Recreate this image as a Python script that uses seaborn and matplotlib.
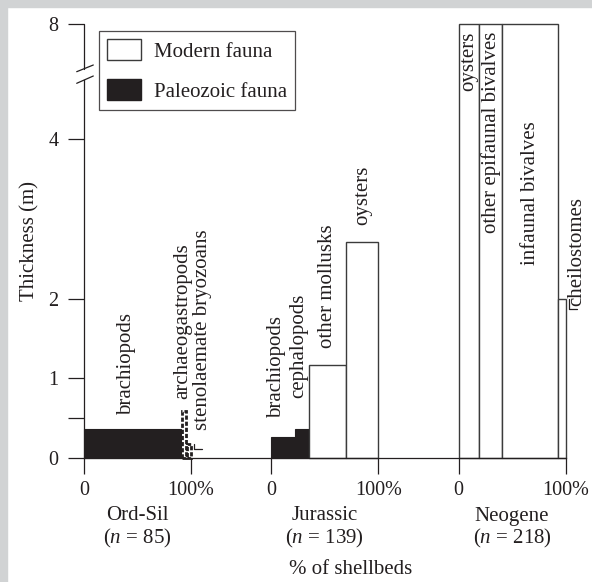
import numpy as np
import pandas as pd
import matplotlib
matplotlib.use("Agg")
import matplotlib.pyplot as plt
import seaborn as sns
from matplotlib.patches import Patch, Rectangle
from matplotlib.lines import Line2D

# dane
periods = ["Ord-Sil", "Jurassic", "Neogene"]
n_beds = [85, 139, 218]

ordsil_taxa = ["brachiopods", "archaeogastropods", "stenolaemate bryozoans"]
ordsil_pct = [91, 4, 5]
ordsil_thick = [0.37, 0.59, 0.18]
ordsil_fauna = ["Paleozoic", "Paleozoic", "Paleozoic"]

jurassic_taxa = ["brachiopods", "cephalopods", "other mollusks", "oysters"]
jurassic_pct = [22, 13, 35, 30]
jurassic_thick = [0.265, 0.37, 1.165, 2.71]
jurassic_fauna = ["Paleozoic", "Paleozoic", "Modern", "Modern"]

neogene_taxa = ["oysters", "other epifaunal bivalves", "infaunal bivalves", "cheilostomes"]
neogene_pct = [19, 22, 52, 7]
neogene_thick = [8, 8, 8, 2.0]
neogene_fauna = ["Modern", "Modern", "Modern", "Modern"]

y_ticks = [0, 0.5, 1, 2, 4, 8]
y_ticklabels = ["0", "", "1", "2", "4", "8"]

# ustawienia
W, H, DPI = 592, 582, 100
STEP = 175          # odstep miedzy grupami (w % szerokosci)
MINOR_W = 3.5       # waskie slupki rysowane kropkowane
BRK, SQZ = 4.8, 0.2  # przerwa na osi y
BLACK = "#231f20"
EDGE = "#3b3b3b"
FS = 15

sns.set_theme(style="ticks")
plt.rcParams["font.family"] = ["Liberation Serif", "DejaVu Serif"]
plt.rcParams["mathtext.fontset"] = "custom"
plt.rcParams["mathtext.rm"] = "Liberation Serif"
plt.rcParams["mathtext.it"] = "Liberation Serif:italic"
plt.rcParams["axes.edgecolor"] = BLACK
plt.rcParams["text.color"] = BLACK
plt.rcParams["xtick.color"] = BLACK
plt.rcParams["ytick.color"] = BLACK

# tabela slupkow
rows = []
for i, (taxa, pct, thick, fauna) in enumerate([
        (ordsil_taxa, ordsil_pct, ordsil_thick, ordsil_fauna),
        (jurassic_taxa, jurassic_pct, jurassic_thick, jurassic_fauna),
        (neogene_taxa, neogene_pct, neogene_thick, neogene_fauna)]):
    right = i * STEP + np.cumsum(pct)
    left = right - np.array(pct)
    for t, l, r, h, f in zip(taxa, left, right, thick, fauna):
        rows.append(dict(period=periods[i], taxon=t, left=l, right=r,
                         thickness=h, fauna=f))
df = pd.DataFrame(rows)
df["minor"] = (df["right"] - df["left"]) <= 5
df["draw_left"] = np.where(df["minor"], df["right"] - MINOR_W, df["left"])
df["mid"] = (df["draw_left"] + df["right"]) / 2

fig = plt.figure(figsize=(W / DPI, H / DPI), dpi=DPI)
fig.patches.append(Rectangle((0, 0), 7 / W, 1, transform=fig.transFigure,
                             color="#d1d3d4", zorder=0))
fig.patches.append(Rectangle((0, 1 - 7 / H), 1, 7 / H, transform=fig.transFigure,
                             color="#d1d3d4", zorder=0))
ax = fig.add_axes([84 / W, (H - 458.3) / H, 481.6 / W, 434.3 / H])


def fwd(v):
    v = np.asarray(v, dtype=float)
    return np.where(v <= BRK, v, BRK + (v - BRK) * SQZ)


def inv(u):
    u = np.asarray(u, dtype=float)
    return np.where(u <= BRK, u, BRK + (u - BRK) / SQZ)


# slupki o zmiennej szerokosci: histogram z wagami
for _, r in df.iterrows():
    if r["minor"]:
        style = dict(facecolor="none", edgecolor=BLACK, linewidth=2.0,
                     linestyle=(0, (1.5, 0.7)))
    elif r["fauna"] == "Paleozoic":
        style = dict(facecolor=BLACK, edgecolor=BLACK, linewidth=0.8)
    else:
        style = dict(facecolor="white", edgecolor=EDGE, linewidth=1.0)
    sns.histplot(x=[r["mid"]], weights=[r["thickness"]],
                 bins=[r["draw_left"], r["right"]], stat="count",
                 element="bars", ax=ax, clip_on=False, **style)

ax.set_yscale("function", functions=(fwd, inv))
ax.set_xlim(0, 2 * STEP + 100)
ax.set_ylim(0, 8)
ax.set_xlabel("")
ax.set_ylabel("")

xt = []
for i in range(3):
    xt += [i * STEP, i * STEP + 100]
ax.set_xticks(xt, ["0", "100%"] * 3)
ax.set_yticks(y_ticks, y_ticklabels)
ax.tick_params(axis="both", direction="out", length=11.5, width=0.9,
               labelsize=14.5)
ax.tick_params(axis="y", pad=7)
ax.tick_params(axis="x", pad=5)
ax.minorticks_off()
sns.despine(ax=ax)
for s in ["left", "bottom"]:
    ax.spines[s].set_linewidth(0.9)


# przerwa osi y
def frac(py):
    return (458.3 - py) / 434.3


ax.spines["left"].set_bounds(0, (458.3 - 80.4) / 79.83)
ax.plot([0, 0], [frac(68.8), 1], transform=ax.transAxes, clip_on=False,
        color=BLACK, lw=0.9)
for y0, y1 in [(71.7, 65), (83.3, 76)]:
    ax.plot([-7.3 / 481.6, 9.3 / 481.6], [frac(y0), frac(y1)],
            transform=ax.transAxes, clip_on=False, color=BLACK, lw=0.9)

# podpisy taksonow: (dx, dy) w pikselach, va
label_pos = {
    ("Ord-Sil", "brachiopods"): (-6, 14, "bottom"),
    ("Ord-Sil", "archaeogastropods"): (-1, 12, "bottom"),
    ("Ord-Sil", "stenolaemate bryozoans"): (13, 14, "bottom"),
    ("Jurassic", "brachiopods"): (-7, 19, "bottom"),
    ("Jurassic", "cephalopods"): (-3, 31, "bottom"),
    ("Jurassic", "other mollusks"): (0, 17, "bottom"),
    ("Jurassic", "oysters"): (0, 17, "bottom"),
    ("Neogene", "oysters"): (0, -8, "top"),
    ("Neogene", "other epifaunal bivalves"): (0, -8, "top"),
    ("Neogene", "infaunal bivalves"): (0, -97, "top"),
    ("Neogene", "cheilostomes"): (15, -7, "bottom"),
}
leaders = {("Ord-Sil", "stenolaemate bryozoans"): 5.5,
           ("Neogene", "cheilostomes"): 10}

for _, r in df.iterrows():
    key = (r["period"], r["taxon"])
    dx, dy, va = label_pos[key]
    ax.annotate(r["taxon"], xy=(r["mid"], r["thickness"]),
                xytext=(dx * 72 / DPI, dy * 72 / DPI), textcoords="offset points",
                rotation=90, ha="center", va=va, fontsize=FS, annotation_clip=False)
    if key in leaders:
        X, Y = ax.transData.transform((r["right"], r["thickness"]))
        Xc = ax.transData.transform((r["mid"], r["thickness"]))[0] + dx
        d = leaders[key]
        xs = np.array([X + 3, X + 3, Xc]) / W
        ys = np.array([Y, Y - d, Y - d]) / H
        fig.add_artist(Line2D(xs, ys, transform=fig.transFigure,
                              color=BLACK, lw=0.9))

# podpisy grup
for i, (p, n) in enumerate(zip(periods, n_beds)):
    cx = i * STEP + 50
    ax.text(cx, (458.3 - 516) / 434.3, p, transform=ax.get_xaxis_transform(),
            ha="center", va="center", fontsize=FS)
    ax.text(cx, (458.3 - 538) / 434.3, f"($\\mathit{{n}}$ = {n})",
            transform=ax.get_xaxis_transform(), ha="center", va="center",
            fontsize=FS)

fig.text(351 / W, 1 - 569 / H, "% of shellbeds", ha="center", va="center",
         fontsize=FS)
fig.text(30 / W, 1 - 241 / H, "Thickness (m)", rotation=90, ha="center",
         va="center", fontsize=FS)

handles = [Patch(facecolor="white", edgecolor=EDGE, linewidth=1.0),
           Patch(facecolor=BLACK, edgecolor=BLACK)]
leg = ax.legend(handles, ["Modern fauna", "Paleozoic fauna"], loc="upper left",
                bbox_to_anchor=(99 / W, 1 - 31 / H), bbox_transform=fig.transFigure,
                borderaxespad=0, fontsize=FS, frameon=True, fancybox=False,
                handlelength=1.63, handleheight=1.15, labelspacing=0.85,
                handletextpad=0.6, borderpad=0.4)
leg.get_frame().set_edgecolor(BLACK)
leg.get_frame().set_linewidth(0.9)

fig.savefig("out.png", dpi=DPI)
